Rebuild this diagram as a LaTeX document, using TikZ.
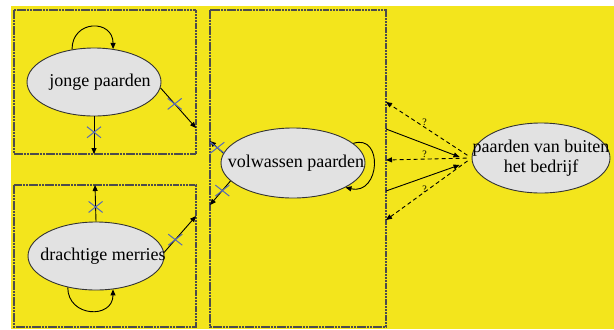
\documentclass[tikz,border=0pt]{standalone}
\usepackage{fontspec}
\setmainfont{Liberation Serif}
\usetikzlibrary{arrows.meta,shapes.geometric,shapes.misc}
\definecolor{geel}{RGB}{243,229,28}
\definecolor{grijs}{RGB}{226,226,226}
\definecolor{kruisblauw}{RGB}{85,105,185}
\tikzset{
  etat/.style={ellipse,draw=black!80,fill=grijs,line width=0.9bp,inner sep=0pt,
    font=\fontsize{18bp}{20bp}\selectfont},
  cadre/.style={draw=black!70,line width=1.4bp,dash pattern=on 2.5bp off 0.7bp},
  pijl/.style={-{Triangle[length=6bp,width=5bp]},line width=0.9bp},
  vraag/.style={pijl,dash pattern=on 4bp off 3bp,shorten <=5bp},
  kruis/.style={cross out,draw=kruisblauw,line width=1bp,minimum width=13bp,
    minimum height=10bp,inner sep=0pt},
  vraagteken/.style={font=\fontsize{10bp}{10bp}\selectfont,inner sep=1.5bp}
}
\begin{document}
\begin{tikzpicture}[x=1bp,y=-1bp]
%					Fond :
					\useasboundingbox (0,0) rectangle (614,329);
					\fill[white] (0,0) rectangle (614,329);
					\fill[geel] (11,6) rectangle (614,329);
%					Cadres :
					\draw[cadre] (14,10) rectangle (196,154);
					\draw[cadre] (14,185) rectangle (196,327);
					\draw[cadre] (210,10) rectangle (386,327);
%					Ellipses :
					\draw (94,82) node[etat,minimum width=134bp,minimum height=68bp] (jonge) {\makebox[0pt]{\hspace{12bp}jonge paarden}};
					\draw (96,256) node[etat,minimum width=136bp,minimum height=68bp] (drachtig) {\makebox[0pt]{\hspace{14bp}drachtige merries}};
					\draw (293,163) node[etat,minimum width=144bp,minimum height=70bp] (volw) {\makebox[0pt]{\hspace{6bp}volwassen paarden}};
					\draw (541,158) node[etat,minimum width=138bp,minimum height=70bp] (buiten) {\makebox[0pt]{\begin{tabular}{@{}c@{}}paarden van buiten\\het bedrijf\end{tabular}}};
%					Bords des cadres :
					\coordinate (jonge-uit) at (94,154);
					\coordinate (jonge-naar) at (196,128);
					\coordinate (drachtig-uit) at (95,185);
					\coordinate (drachtig-naar) at (196,216);
					\coordinate (volw-boven) at (210,141);
					\coordinate (volw-onder) at (210,205);
					\coordinate (in1) at (386,102);
					\coordinate (in2) at (386,160);
					\coordinate (in3) at (386,220);
					\coordinate (uit1) at (386,129);
					\coordinate (uit2) at (386,191);
%					Boucles :
					\draw[pijl] (jonge.124) .. controls +(0,-30) and +(0,-30) .. (jonge.60);
					\draw[pijl] (drachtig.228) .. controls +(0,30) and +(0,30) .. (drachtig.297);
					\draw[pijl] (volw.18) .. controls +(30,-10) and +(35,8) .. (volw.-25);
%					Flèches barrées :
					\draw[pijl] (jonge.south) -- node[kruis,pos=0.42] (k1) {} (jonge-uit);
					\draw[pijl] (jonge.-5) -- node[kruis,pos=0.4] (k2) {} (jonge-naar);
					\draw[pijl] (drachtig.north) -- node[kruis,pos=0.4] (k3) {} (drachtig-uit);
					\draw[pijl] (drachtig.3) -- node[kruis,pos=0.35] (k4) {} (drachtig-naar);
					\draw[pijl] (volw.172) -- node[kruis,pos=0.45] (k5) {} (volw-boven);
					\draw[pijl] (volw.196) -- node[kruis,pos=0.4] (k6) {} (volw-onder);
%					Flèches vers l'extérieur :
					\draw[vraag] (buiten.west) -- node[vraagteken,pos=0.55,above] (v1) {?} (in1);
					\draw[vraag] (buiten.west) -- node[vraagteken,pos=0.55,above] (v2) {?} (in2);
					\draw[vraag] (buiten.west) -- node[vraagteken,pos=0.5,left] (v3) {?} (in3);
					\draw[pijl] (uit1) -- ([xshift=-12bp,yshift=1bp]buiten.west);
					\draw[pijl] (uit2) -- ([xshift=-12bp,yshift=-7bp]buiten.west);
				\end{tikzpicture}
\end{document}
